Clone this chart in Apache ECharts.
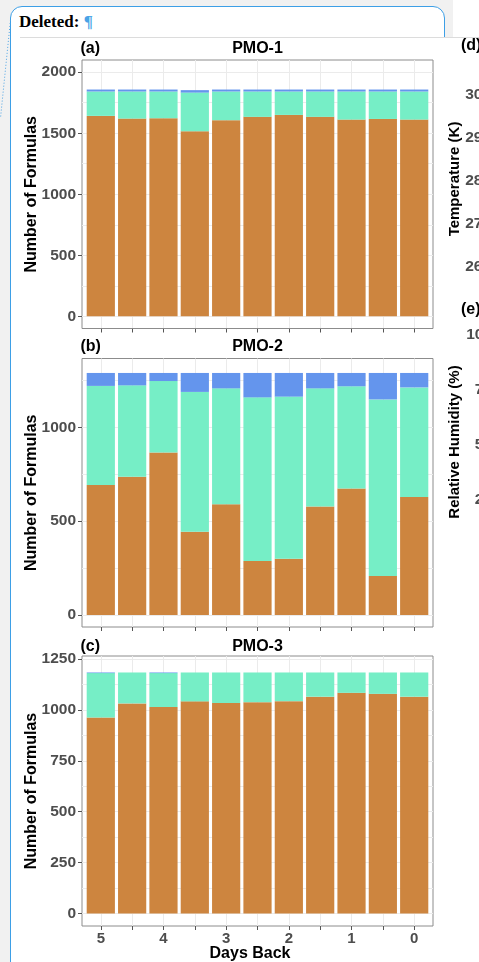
<!DOCTYPE html>
<html>
<head>
<meta charset="utf-8">
<script src="https://cdn.jsdelivr.net/npm/echarts@6/dist/echarts.min.js"></script>
<style>
html,body{margin:0;padding:0;width:479px;height:962px;overflow:hidden;background:#fff;}
.abs{position:absolute;}
#grayTop{left:0;top:0;width:453px;height:37px;background:#f1f1f1;}
#grayLeft{left:0;top:0;width:11px;height:962px;background:#f1f1f1;}
#box{left:10px;top:6px;width:435px;height:1100px;border:1.5px solid #3d9fe6;border-radius:12px;background:#fff;box-sizing:border-box;}
#img{left:20px;top:37px;width:470px;height:940px;background:#fff;border-top:1px solid #dcdcdc;}
#hdr{left:19px;top:13px;font:bold 17px/17px "Liberation Serif",serif;color:#000;white-space:nowrap;}
#hdr span{color:#4aa3e6;}
#chart{left:0;top:0;width:479px;height:962px;}
</style>
</head>
<body>
<div id="grayTop" class="abs"></div>
<div id="grayLeft" class="abs"></div>
<div id="box" class="abs"></div>
<div id="img" class="abs"></div>
<svg class="abs" style="left:0;top:0" width="20" height="130"><line x1="10.5" y1="20" x2="0.5" y2="118" stroke="#4aa3e6" stroke-width="1" stroke-dasharray="1,2"/></svg>
<div id="hdr" class="abs">Deleted: <span>¶</span></div>
<div id="chart" class="abs"></div>
<script>
// ---- data ----
const days = [5, 4.5, 4, 3.5, 3, 2.5, 2, 1.5, 1, 0.5, 0];
const dayLabels = [5, 4, 3, 2, 1, 0];

const pmo1Low  = [1642, 1620, 1623, 1516, 1607, 1634, 1650, 1634, 1612, 1617, 1612];
const pmo1Mid  = [200, 222, 219, 317, 235, 208, 192, 208, 230, 225, 230];
const pmo1High = [16, 16, 16, 20, 16, 16, 16, 16, 16, 16, 16];

const pmo2Low  = [692, 736, 866, 443, 590, 288, 300, 578, 674, 208, 628];
const pmo2Mid  = [528, 487, 380, 745, 617, 871, 863, 629, 544, 940, 584];
const pmo2High = [69, 66, 43, 101, 82, 130, 126, 82, 71, 141, 77];

const pmo3Low  = [963, 1032, 1014, 1042, 1034, 1038, 1043, 1065, 1084, 1079, 1065];
const pmo3Mid  = [218, 152, 167, 142, 150, 146, 141, 119, 100, 105, 119];
const pmo3High = [3, 0, 3, 0, 0, 0, 0, 0, 0, 0, 0];

const yTicks1 = [0, 500, 1000, 1500, 2000];
const yTicks2 = [0, 500, 1000];
const yTicks3 = [0, 250, 500, 750, 1000, 1250];

const tempTicks = ['300', '290', '280', '270', '260'];
const humTicks  = ['100', '75', '50', '25'];

const seriesNames = ['Group 1', 'Group 2', 'Group 3'];
const colors = ['#CD853F', '#76EEC6', '#6495ED'];

// ---- layout ----
const panels = [
  {title: 'PMO-1', tag: '(a)', low: pmo1Low, mid: pmo1Mid, high: pmo1High, ticks: yTicks1,
   min: -100, max: 2100, split: 5, minor: 2, top: 60, height: 268.5, titleY: 49, showX: false},
  {title: 'PMO-2', tag: '(b)', low: pmo2Low, mid: pmo2Mid, high: pmo2High, ticks: yTicks2,
   min: -64, max: 1366, split: 3, minor: 2, top: 358.5, height: 268.5, titleY: 347, showX: false},
  {title: 'PMO-3', tag: '(c)', low: pmo3Low, mid: pmo3Mid, high: pmo3High, ticks: yTicks3,
   min: -62, max: 1265, split: 3, minor: 4, top: 656, height: 270, titleY: 647, showX: true}
];

const FONT = '"Liberation Sans", Arial, sans-serif';
const GRID = '#ebebeb';

const option = {animation: false, grid: [], xAxis: [], yAxis: [], series: [], graphic: []};

panels.forEach((p, i) => {
  option.grid.push({left: 82, width: 351, top: p.top, height: p.height, show: true,
    borderColor: '#8c8c8c', borderWidth: 1, backgroundColor: '#fff'});
  option.xAxis.push({
    type: 'value', gridIndex: i, min: -0.3, max: 5.3, inverse: true, position: 'bottom',
    axisLine: {show: false, onZero: false},
    axisTick: {show: true, length: 4, lineStyle: {color: '#555'}, customValues: days},
    axisLabel: {show: p.showX, customValues: dayLabels, margin: 5, color: '#4d4d4d',
      fontSize: 15, fontWeight: 'bold', fontFamily: FONT, formatter: v => String(v)},
    splitLine: {show: true, lineStyle: {color: GRID, width: 1}}
  });
  option.yAxis.push({
    type: 'value', gridIndex: i, min: p.min, max: p.max, splitNumber: p.split, position: 'left',
    axisLine: {show: false, onZero: false},
    axisTick: {show: true, length: 4, lineStyle: {color: '#555'}, customValues: p.ticks},
    axisLabel: {customValues: p.ticks, margin: 6, color: '#4d4d4d', fontSize: 15.5,
      fontWeight: 'bold', fontFamily: FONT, formatter: v => String(v)},
    splitLine: {show: true, lineStyle: {color: GRID, width: 1}},
    minorTick: {show: false, splitNumber: p.minor},
    minorSplitLine: {show: true, lineStyle: {color: GRID, width: 1}}
  });
  [p.low, p.mid, p.high].forEach((vals, k) => {
    option.series.push({
      type: 'bar', name: seriesNames[k], xAxisIndex: i, yAxisIndex: i, stack: 'pmo' + i,
      barWidth: '90%', encode: {x: 1, y: 0},
      data: days.map((d, j) => [vals[j], d]),
      itemStyle: {color: colors[k]}, emphasis: {disabled: true}
    });
  });
  const cy = p.top + p.height / 2;
  option.graphic.push(
    {type: 'text', x: 32, y: cy, rotation: Math.PI / 2,
     style: {text: 'Number of Formulas', font: 'bold 16px ' + FONT, fill: '#000', align: 'center', verticalAlign: 'middle'}},
    {type: 'text', x: 257.5, y: p.titleY,
     style: {text: p.title, font: 'bold 16px ' + FONT, fill: '#000', align: 'center', verticalAlign: 'middle'}},
    {type: 'text', x: 80.5, y: p.titleY,
     style: {text: p.tag, font: 'bold 16px ' + FONT, fill: '#000', align: 'left', verticalAlign: 'middle'}}
  );
});

option.graphic.push(
  {type: 'text', x: 250, y: 954, style: {text: 'Days Back', font: 'bold 16px ' + FONT, fill: '#000', align: 'center', verticalAlign: 'middle'}},
  {type: 'text', x: 461, y: 46, style: {text: '(d)', font: 'bold 16px ' + FONT, fill: '#000', align: 'left', verticalAlign: 'middle'}},
  {type: 'text', x: 455, y: 179, rotation: Math.PI / 2, style: {text: 'Temperature (K)', font: 'bold 15px ' + FONT, fill: '#000', align: 'center', verticalAlign: 'middle'}},
  {type: 'text', x: 461, y: 310, style: {text: '(e)', font: 'bold 16px ' + FONT, fill: '#000', align: 'left', verticalAlign: 'middle'}},
  {type: 'text', x: 455, y: 442, rotation: Math.PI / 2, style: {text: 'Relative Humidity (%)', font: 'bold 15px ' + FONT, fill: '#000', align: 'center', verticalAlign: 'middle'}}
);
const tempY = [95, 138, 181, 224, 267];
tempTicks.forEach((t, i) => option.graphic.push({type: 'text', x: 491, y: tempY[i],
  style: {text: t, font: 'bold 15.5px ' + FONT, fill: '#4d4d4d', align: 'right', verticalAlign: 'middle'}}));
const humY = [335, 390, 445, 500];
humTicks.forEach((t, i) => option.graphic.push({type: 'text', x: 492, y: humY[i],
  style: {text: t, font: 'bold 15.5px ' + FONT, fill: '#4d4d4d', align: 'right', verticalAlign: 'middle'}}));

const chart = echarts.init(document.getElementById('chart'), null, {renderer: 'canvas'});
chart.setOption(option);
</script>
</body>
</html>
